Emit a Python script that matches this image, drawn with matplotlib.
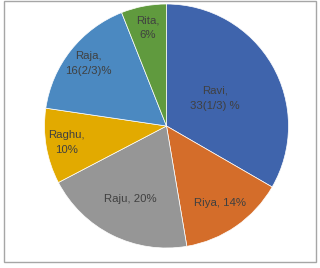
import numpy as np
import matplotlib.pyplot as plt
from matplotlib.patches import Rectangle

names = ["Ravi", "Riya", "Raju", "Raghu", "Raja", "Rita"]
shares = [33.333, 14, 20, 10, 16.667, 6]
labels = ["Ravi,\n33(1/3) %", "Riya, 14%", "Raju, 20%", "Raghu,\n10%", "Raja,\n16(2/3)%", "Rita,\n6%"]
colors = ["#3F64AC", "#D46D2A", "#969696", "#E2AA00", "#4B89C1", "#609A3E"]
label_dist = [0.46, 0.77, 0.67, 0.83, 0.82, 0.82]

fig = plt.figure(figsize=(3.2, 2.68), dpi=100)
fig.patches.append(Rectangle((3.5 / 320, 6 / 268), 312.5 / 320, 261.5 / 268,
                             transform=fig.transFigure, fill=False,
                             edgecolor="#A6A6A6", lw=1))
ax = fig.add_axes([44.5 / 320, 20 / 268, 244 / 320, 244 / 268])

wedges, _ = ax.pie(shares, colors=colors, startangle=90, counterclock=False,
                   radius=1, wedgeprops=dict(edgecolor="white", linewidth=0.5))
for w, lab, d in zip(wedges, labels, label_dist):
    ang = np.deg2rad((w.theta1 + w.theta2) / 2)
    ax.text(d * np.cos(ang), d * np.sin(ang), lab, ha="center", va="center",
            fontsize=8.2, color="#404040", family="Liberation Sans",
            linespacing=1.65)
ax.set_xlim(-1, 1)
ax.set_ylim(-1, 1)
ax.set_aspect("equal")
ax.axis("off")

fig.savefig("out.png", dpi=100)
